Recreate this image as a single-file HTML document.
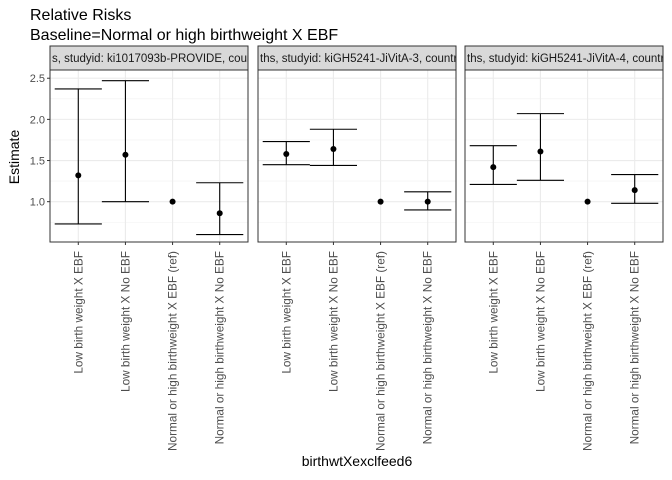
<!DOCTYPE html>
<html><head><meta charset="utf-8"><style>
body{margin:0;background:#fff}
svg{font-family:"Liberation Sans",Arial,sans-serif;display:block}
</style></head><body>
<svg id="chart" width="672" height="480">
<text x="30" y="20" font-size="16" fill="#000">Relative Risks</text>
<text x="30" y="40" font-size="16" fill="#000">Baseline=Normal or high birthweight X EBF</text>
<text transform="translate(19,157) rotate(-90)" text-anchor="middle" font-size="14" fill="#000">Estimate</text>
<text x="357" y="466" text-anchor="middle" font-size="14" fill="#000">birthwtXexclfeed6</text>
<g id="panels"></g>
</svg>
<script>
const categories=["Low birth weight X EBF","Low birth weight X No EBF","Normal or high birthweight X EBF (ref)","Normal or high birthweight X No EBF"];
const stripLabels=["s, studyid: ki1017093b-PROVIDE, country: INDIA","ths, studyid: kiGH5241-JiVitA-3, country: BANGLADESH","ths, studyid: kiGH5241-JiVitA-4, country: BANGLADESH"];
const est1=[1.32,1.57,1.0,0.86], lo1=[0.73,1.0,null,0.6], hi1=[2.37,2.47,null,1.23];
const est2=[1.58,1.64,1.0,1.0], lo2=[1.45,1.44,null,0.9], hi2=[1.73,1.88,null,1.12];
const est3=[1.42,1.61,1.0,1.14], lo3=[1.21,1.26,null,0.98], hi3=[1.68,2.07,null,1.33];
const yTicks=[1.0,1.5,2.0,2.5];
const yMinor=[0.75,1.25,1.75,2.25];
const estimates=[est1,est2,est3], lows=[lo1,lo2,lo3], highs=[hi1,hi2,hi3];

const NS="http://www.w3.org/2000/svg";
const g=document.getElementById('panels');
const panelX=[50,258,465], panelW=198, pTop=70, pBottom=242, stripTop=46;
const yMin=0.51, yMax=2.6;
function y(v){return pBottom-(v-yMin)/(yMax-yMin)*(pBottom-pTop);}
function mk(tag,attrs,parent){const e=document.createElementNS(NS,tag);for(const k in attrs)e.setAttribute(k,attrs[k]);(parent||g).appendChild(e);return e;}
panelX.forEach((px,p)=>{
  const step=panelW/(categories.length-1+1.2);
  const x=i=>px+step*0.6+i*step;
  const pg=mk('g',{});
  
  
  mk('rect',{x:px,y:pTop,width:panelW,height:pBottom-pTop,fill:'#fff'},pg);
  yMinor.forEach(v=>mk('line',{x1:px,x2:px+panelW,y1:y(v),y2:y(v),stroke:'#f0f0f0','stroke-width':0.6},pg));
  yTicks.forEach(v=>mk('line',{x1:px,x2:px+panelW,y1:y(v),y2:y(v),stroke:'#ebebeb','stroke-width':1.1},pg));
  categories.forEach((c,i)=>mk('line',{x1:x(i),x2:x(i),y1:pTop,y2:pBottom,stroke:'#ebebeb','stroke-width':1.1},pg));
  const cid='clip'+p;
  const cp=mk('clipPath',{id:cid},pg);
  mk('rect',{x:px,y:stripTop,width:panelW,height:pTop-stripTop},cp);
  const strip=mk('rect',{x:px,y:stripTop,width:panelW,height:pTop-stripTop,fill:'#d9d9d9',stroke:'#333','stroke-width':1},pg);
  
  
  const st=mk('text',{x:px+2,y:stripTop+16,'font-size':11.5,fill:'#1a1a1a','clip-path':'url(#'+cid+')'},pg);
  st.textContent=stripLabels[p];
  
  
  const ci=estimates[p];
  ci.forEach((v,i)=>{
    const lo=lows[p][i], hi=highs[p][i];
    if(lo!==null){
      const eb=mk('path',{d:`M${x(i)-step/2},${y(hi)}H${x(i)+step/2}M${x(i)},${y(hi)}V${y(lo)}M${x(i)-step/2},${y(lo)}H${x(i)+step/2}`,stroke:'#000','stroke-width':1.1,fill:'none'},pg);
      
      
    }
    const pt=mk('circle',{cx:x(i),cy:y(v),r:3,fill:'#000'},pg);
    
    
    mk('line',{x1:x(i),x2:x(i),y1:pBottom,y2:pBottom+3,stroke:'#333','stroke-width':1},pg);
    const tl=mk('text',{transform:`translate(${x(i)+4},${pBottom+9}) rotate(-90)`,'text-anchor':'end','font-size':11.8,fill:'#4d4d4d'},pg);
    tl.textContent=categories[i];
    
    
  });
  mk('rect',{x:px,y:pTop,width:panelW,height:pBottom-pTop,fill:'none',stroke:'#333','stroke-width':1},pg);
  if(p===0){
    yTicks.forEach(v=>{
      mk('line',{x1:px-3,x2:px,y1:y(v),y2:y(v),stroke:'#333','stroke-width':1},pg);
      const t=mk('text',{x:px-5,y:y(v)+4,'text-anchor':'end','font-size':11,fill:'#4d4d4d'},pg);
      t.textContent=v.toFixed(1);
      
      
    });
  }
});
</script>
</body></html>
